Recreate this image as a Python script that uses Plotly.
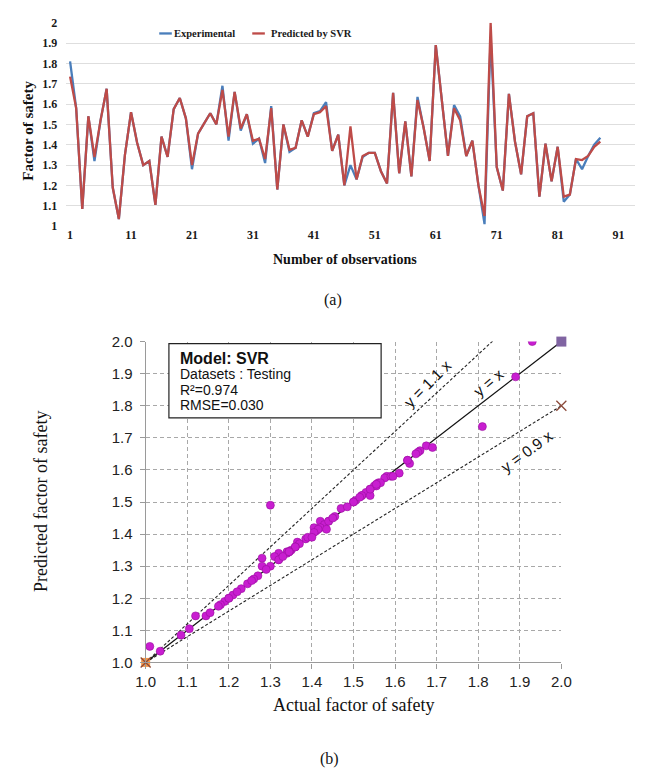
import plotly.graph_objects as go

# ---------------- data ----------------
observations = list(range(1, 89))

experimental = [1.81, 1.58, 1.085, 1.54, 1.32, 1.52, 1.675, 1.19, 1.035, 1.35,
                1.56, 1.41, 1.30, 1.32, 1.105, 1.44, 1.34, 1.575, 1.63, 1.53,
                1.28, 1.455, 1.505, 1.555, 1.50, 1.69, 1.42, 1.66, 1.47, 1.55,
                1.405, 1.43, 1.31, 1.59, 1.18, 1.50, 1.365, 1.385, 1.52, 1.44,
                1.555, 1.565, 1.61, 1.37, 1.45, 1.20, 1.30, 1.23, 1.34, 1.36,
                1.36, 1.27, 1.21, 1.655, 1.26, 1.515, 1.245, 1.635, 1.485, 1.32,
                1.89, 1.63, 1.345, 1.595, 1.54, 1.345, 1.42, 1.20, 1.01, 1.93,
                1.29, 1.175, 1.65, 1.415, 1.255, 1.54, 1.555, 1.145, 1.405, 1.22,
                1.39, 1.12, 1.155, 1.33, 1.28, 1.345, 1.40, 1.435]

predicted = [1.735, 1.58, 1.085, 1.54, 1.34, 1.52, 1.675, 1.19, 1.035, 1.35,
             1.56, 1.41, 1.30, 1.32, 1.105, 1.44, 1.34, 1.575, 1.63, 1.53,
             1.30, 1.455, 1.505, 1.555, 1.50, 1.67, 1.44, 1.66, 1.48, 1.55,
             1.42, 1.43, 1.33, 1.58, 1.18, 1.50, 1.375, 1.385, 1.52, 1.44,
             1.55, 1.56, 1.59, 1.37, 1.45, 1.20, 1.49, 1.23, 1.345, 1.36,
             1.36, 1.27, 1.21, 1.655, 1.26, 1.515, 1.245, 1.62, 1.485, 1.32,
             1.89, 1.63, 1.345, 1.58, 1.52, 1.345, 1.42, 1.20, 1.05, 2.0,
             1.29, 1.175, 1.65, 1.415, 1.255, 1.54, 1.555, 1.145, 1.405, 1.22,
             1.39, 1.145, 1.155, 1.33, 1.325, 1.345, 1.39, 1.415]

obs_ticks = [1, 11, 21, 31, 41, 51, 61, 71, 81, 91]
fos_ticks = [1.0, 1.1, 1.2, 1.3, 1.4, 1.5, 1.6, 1.7, 1.8, 1.9, 2.0]
fos_ticklabels = ["1", "1.1", "1.2", "1.3", "1.4", "1.5", "1.6", "1.7", "1.8", "1.9", "2"]

series_names = ["Experimental", "Predicted by SVR"]
series_colors = ["#4A7EBB", "#BE4B48"]

# reference lines of the scatter plot (start / end points)
ref_x = [1.0, 2.0]
line_y_eq_x = [1.0, 2.0]
line_upper = [1.0, 2.2]
line_lower = [1.0, 1.8]

# ---------------- helpers ----------------
W, H = 645, 779
def px(x):
    return x / W
def py(y):
    return 1 - y / H

SERIF = "Liberation Serif"
SANS = "Liberation Sans"

fig = go.Figure()

# ---------- (a) line chart ----------
for vals, name, col in zip([experimental, predicted], series_names, series_colors):
    fig.add_trace(go.Scatter(x=observations, y=vals, mode="lines", name=name, showlegend=False,
                             line=dict(color=col, width=2.3), xaxis="x", yaxis="y"))

# ---------- (b) scatter ----------
fig.add_trace(go.Scatter(x=ref_x, y=line_upper, mode="lines", showlegend=False,
                         line=dict(color="#222", width=1.1, dash="3px,2px"), xaxis="x2", yaxis="y2"))
fig.add_trace(go.Scatter(x=ref_x, y=line_lower, mode="lines", showlegend=False,
                         line=dict(color="#222", width=1.1, dash="3px,2px"), xaxis="x2", yaxis="y2"))
fig.add_trace(go.Scatter(x=ref_x, y=line_y_eq_x, mode="lines", showlegend=False,
                         line=dict(color="#111", width=1.3), xaxis="x2", yaxis="y2"))
fig.add_trace(go.Scatter(x=experimental, y=predicted, mode="markers", showlegend=False,
                         marker=dict(color="#C81ED0", size=8, line=dict(color="#9A0FA0", width=0.6)),
                         xaxis="x2", yaxis="y2"))
fig.add_trace(go.Scatter(x=[ref_x[1]], y=[line_y_eq_x[1]], mode="markers", showlegend=False, cliponaxis=False,
                         marker=dict(symbol="square", color="#8064A2", size=10), xaxis="x2", yaxis="y2"))
fig.add_trace(go.Scatter(x=[ref_x[0]], y=[line_y_eq_x[0]], mode="markers", showlegend=False, cliponaxis=False,
                         marker=dict(symbol="square", color="#F79646", size=9), xaxis="x2", yaxis="y2"))
fig.add_trace(go.Scatter(x=[ref_x[0], ref_x[1]], y=[line_lower[0], line_lower[1]], mode="markers",
                         showlegend=False, cliponaxis=False,
                         marker=dict(symbol="x-thin-open", color="#8B4A3A", size=10,
                                     line=dict(color="#8B4A3A", width=1.3)),
                         xaxis="x2", yaxis="y2"))

tickfont_a = dict(family=SERIF, size=12, color="#1a1a1a", weight="bold")
tickfont_b = dict(family=SANS, size=15, color="#222")

# x range of (a): obs 1 sits at x=62 px, 6.29 px per observation, plot from x=58 to the right edge
a_left, a_right, a_obs1, a_step = 58, W, 62, 6.29
a_range = [1 - (a_obs1 - a_left) / a_step, 1 + (a_right - a_obs1) / a_step]

fig.update_layout(
    width=W, height=H, autosize=False,
    margin=dict(l=0, r=0, t=0, b=0),
    paper_bgcolor="white", plot_bgcolor="white",
    showlegend=False,
    xaxis=dict(domain=[px(a_left), 1.0], range=a_range, tickmode="array", tickvals=obs_ticks,
               showgrid=False, zeroline=False, showline=False, ticks="", tickfont=tickfont_a,
               anchor="y"),
    yaxis=dict(domain=[py(222), py(14)], range=[1.0, 2.0], tickmode="array", tickvals=fos_ticks,
               ticktext=fos_ticklabels, showgrid=True, gridcolor="#dedede", gridwidth=1,
               zeroline=False, showline=False, ticks="", tickfont=tickfont_a, ticklabelstandoff=8,
               anchor="x"),
    xaxis2=dict(domain=[px(140), px(569)], range=[1.0, 2.0], tickmode="array", tickvals=fos_ticks,
                tickformat=".1f", showgrid=True, gridcolor="#a8a8a8", griddash="4px,3px", gridwidth=1,
                zeroline=False, showline=True, linecolor="#9a9a9a", linewidth=1.2,
                ticks="outside", ticklen=5, tickcolor="#9a9a9a", tickfont=tickfont_b, anchor="y2"),
    yaxis2=dict(domain=[py(668), py(340)], range=[1.0, 2.0], tickmode="array", tickvals=fos_ticks,
                tickformat=".1f", showgrid=True, gridcolor="#a8a8a8", griddash="4px,3px", gridwidth=1,
                zeroline=False, showline=True, linecolor="#9a9a9a", linewidth=1.2,
                ticks="outside", ticklen=5, tickcolor="#9a9a9a", tickfont=tickfont_b, anchor="x2",
                ticklabelstandoff=4),
)

legend_font = dict(family=SERIF, size=10.5, color="#1a1a1a", weight="bold")
annotations = [
    # legend of (a)
    dict(text=series_names[0], x=px(167), y=py(25), xanchor="left", font=legend_font),
    dict(text=series_names[1], x=px(267), y=py(25), xanchor="left", font=legend_font),
    # (a)
    dict(text="Factor of safety", x=px(19), y=py(124), textangle=-90,
         font=dict(family=SERIF, size=15, color="#111", weight="bold")),
    dict(text="Number of observations", x=px(346), y=py(256),
         font=dict(family=SERIF, size=14, color="#111", weight="bold")),
    dict(text="(a)", x=px(333), y=py(297), font=dict(family=SERIF, size=16, color="#111")),
    # (b)
    dict(text="Predicted factor of safety", x=px(32), y=py(504), textangle=-90,
         font=dict(family=SERIF, size=18, color="#111")),
    dict(text="Actual factor of safety", x=px(354), y=py(712),
         font=dict(family=SERIF, size=18, color="#111")),
    dict(text="(b)", x=px(330), y=py(767), font=dict(family=SERIF, size=16, color="#111")),
    # info box text
    dict(text="<b>Model: SVR</b>", x=px(173), y=py(357), xanchor="left",
         font=dict(family=SANS, size=16, color="#111")),
    dict(text="Datasets : Testing", x=px(173), y=py(373), xanchor="left",
         font=dict(family=SANS, size=14, color="#111")),
    dict(text="R²=0.974", x=px(173), y=py(389), xanchor="left",
         font=dict(family=SANS, size=14, color="#111")),
    dict(text="RMSE=0.030", x=px(173), y=py(405), xanchor="left",
         font=dict(family=SANS, size=14, color="#111")),
    # line labels
    dict(text="y = 1.1 x", x=px(431), y=py(383), textangle=-45,
         font=dict(family=SANS, size=15.5, color="#111")),
    dict(text="y = x", x=px(494), y=py(382), textangle=-40,
         font=dict(family=SANS, size=15.5, color="#111")),
    dict(text="y = 0.9 x", x=px(533), y=py(452), textangle=-36,
         font=dict(family=SANS, size=15.5, color="#111")),
]
for a in annotations:
    a.setdefault("xref", "paper")
    a.setdefault("yref", "paper")
    a.setdefault("showarrow", False)
    a.setdefault("xanchor", "center")
    a.setdefault("yanchor", "middle")
fig.update_layout(annotations=annotations)

# legend line samples
for x0, col in zip([154, 250], series_colors):
    fig.add_shape(type="line", xref="paper", yref="paper", x0=px(x0), x1=px(x0 + 13),
                  y0=py(25), y1=py(25), line=dict(color=col, width=2.3))

fig.add_shape(type="rect", xref="paper", yref="paper",
              x0=px(164), x1=px(383), y0=py(418), y1=py(342),
              line=dict(color="#222", width=1.2), fillcolor="white", layer="above")

fig.write_html("out.html")
